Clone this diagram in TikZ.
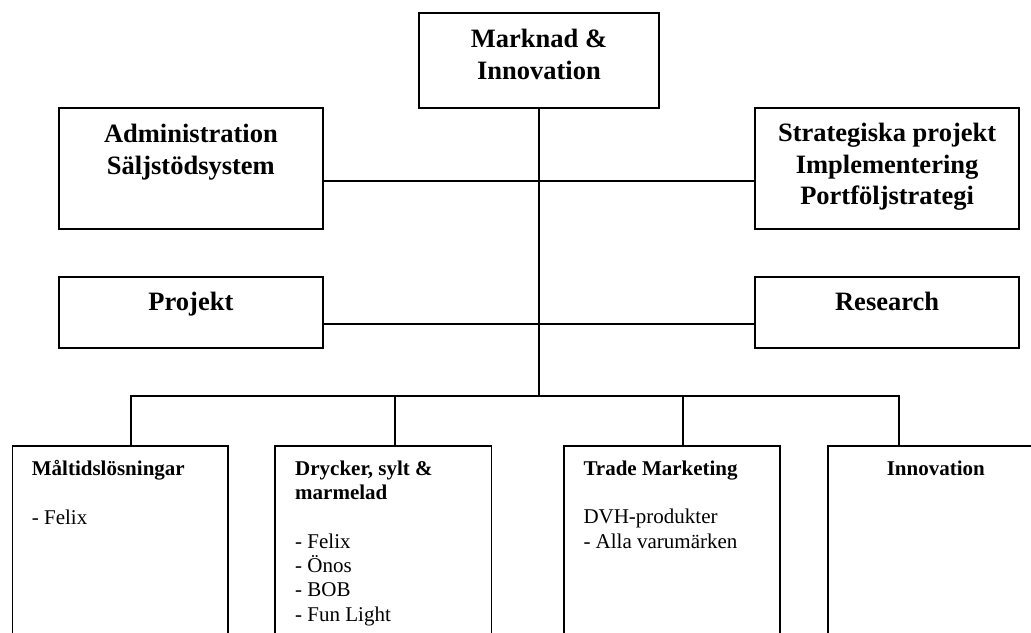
\documentclass[tikz,border=0pt]{standalone}
\usepackage{fontspec}
\setmainfont{Liberation Serif}
\begin{document}
\begin{tikzpicture}[x=1pt,y=-1pt,
  box/.style={draw=black, line width=1.6pt, rectangle, inner sep=0pt, fill=white},
  conn/.style={draw=black, line width=1.6pt},
  bigtxt/.style={inner sep=0pt, align=center, anchor=base,
    font=\fontsize{26.5}{31.5}\selectfont\bfseries},
  smalltxt/.style={inner sep=0pt, align=left, anchor=base west,
    font=\fontsize{21}{24.3}\selectfont}]
  \clip (0,0) rectangle (1031,632);
  \fill[white] (0,0) rectangle (1031,632);

  % upper boxes
  \node[box, minimum width=240pt, minimum height=95.3pt] (top) at (539,60.4) {};
  \node[box, minimum width=264.3pt, minimum height=121pt] (admin) at (190.9,168.6) {};
  \node[box, minimum width=264.3pt, minimum height=121pt] (strat) at (887.1,168.6) {};
  \node[box, minimum width=264.3pt, minimum height=71.3pt] (proj) at (190.9,312.5) {};
  \node[box, minimum width=264.3pt, minimum height=71.3pt] (res) at (887.1,312.5) {};

  % lower boxes (run past the lower edge)
  \node[box, minimum width=215.5pt, minimum height=255pt, anchor=north west] (b1) at (11.7,445) {};
  \node[box, minimum width=216.5pt, minimum height=255pt, anchor=north west] (b2) at (274.3,445) {};
  \node[box, minimum width=216pt, minimum height=255pt, anchor=north west] (b3) at (563,445) {};
  \node[box, minimum width=216pt, minimum height=255pt, anchor=north west] (b4) at (827,445) {};

  % texts of upper boxes (base anchor sits on the last line)
  \node[bigtxt, font=\fontsize{26.5}{32}\selectfont\bfseries] (ttop) at ([yshift=-67.3pt]top.north) {Marknad \&\\Innovation};
  \node[bigtxt, font=\fontsize{26.5}{32}\selectfont\bfseries] (tadmin) at ([yshift=-67pt]admin.north) {Administration\\Säljstödsystem};
  \node[bigtxt] (tstrat) at ([yshift=-97.5pt]strat.north) {Strategiska projekt\\Implementering\\Portföljstrategi};
  \node[bigtxt] (tproj) at ([yshift=-34.5pt]proj.north) {Projekt};
  \node[bigtxt] (tres) at ([yshift=-34.5pt]res.north) {Research};

  % texts of lower boxes
  \node[smalltxt] (t1) at ([xshift=20pt,yshift=-79pt]b1.north west)
    {\textbf{Måltidslösningar}\\[24.3pt]- Felix};
  \node[smalltxt] (t2) at ([xshift=20.7pt,yshift=-176pt]b2.north west)
    {\textbf{Drycker, sylt \&}\\\textbf{marmelad}\\[24.3pt]- Felix\\- Önos\\- BOB\\- Fun Light};
  \node[smalltxt] (t3) at ([xshift=20.3pt,yshift=-103pt]b3.north west)
    {\textbf{Trade Marketing}\\[24.3pt]DVH-produkter\\- Alla varumärken};
  \node[smalltxt, anchor=base] (t4) at ([yshift=-30pt]b4.north)
    {\textbf{Innovation}};

  % connector points
  \coordinate (hA) at (538.7,181);
  \coordinate (hB) at (538.7,324);
  \coordinate (bus) at (538.7,396);
  \coordinate (j1) at (130.7,396);
  \coordinate (j2) at (395,396);
  \coordinate (j3) at (683,396);
  \coordinate (j4) at (899,396);

  % connectors
  \draw[conn] (top.south) -- (top.south |- bus);
  \draw[conn] (admin.east |- hA) -- (strat.west |- hA);
  \draw[conn] (proj.east |- hB) -- (res.west |- hB);
  \draw[conn, line cap=rect] (j1) -- (j4);
  \draw[conn] (j1) -- (j1 |- b1.north);
  \draw[conn] (j2) -- (j2 |- b2.north);
  \draw[conn] (j3) -- (j3 |- b3.north);
  \draw[conn] (j4) -- (j4 |- b4.north);
\end{tikzpicture}
\end{document}
